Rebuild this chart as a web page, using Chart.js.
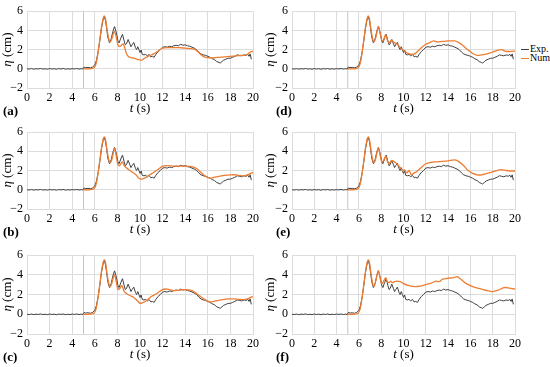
<!DOCTYPE html>
<html lang="en">
<head>
    <meta charset="UTF-8">
    <title>Wave elevation</title>
    <script src="https://cdn.jsdelivr.net/npm/chart.js"></script>
    <style>
        body { margin: 0; background: #fff; }
        #wrap { position: relative; width: 550px; height: 367px; overflow: hidden; }
        canvas { position: absolute; }
        .legend { position: absolute; left: 521px; font: 10px "Liberation Serif"; color: #000; white-space: nowrap; }
        .legend span { display: inline-block; width: 8px; height: 1.5px; vertical-align: middle; margin-right: 1px; }
    </style>
</head>
<body>
    <div id="wrap">
        <div class="legend" style="top:43px"><span style="background:#404040"></span>Exp.</div>
        <div class="legend" style="top:52px"><span style="background:#ED7D31"></span>Num</div>
    </div>

    <script>
        // experimental record (same gauge in every panel)
        const expT = [0, 0.2, 0.4, 0.6, 0.8, 1.0, 1.2, 1.4, 1.6, 1.8, 2.0, 2.2, 2.4, 2.6, 2.8, 3.0, 3.2, 3.4, 3.6, 3.8,
            4.0, 4.2, 4.4, 4.6, 4.8, 4.95, 5.05, 5.2, 5.4, 5.6, 5.8, 6.0, 6.15, 6.3, 6.45, 6.6, 6.75, 6.85, 6.95, 7.05,
            7.15, 7.3, 7.45, 7.6, 7.75, 7.9, 8.05, 8.15, 8.3, 8.45, 8.6, 8.7, 8.8, 8.95, 9.1, 9.2, 9.3, 9.45, 9.6, 9.7,
            9.8, 9.9, 10.0, 10.1, 10.2, 10.35, 10.5, 10.65, 10.8, 10.95, 11.1, 11.25, 11.4, 11.6, 11.8, 12.0, 12.2, 12.4, 12.6, 12.8,
            13.0, 13.2, 13.4, 13.6, 13.8, 14.0, 14.2, 14.4, 14.6, 14.8, 15.0, 15.2, 15.4, 15.6, 15.8, 16.0, 16.2, 16.4, 16.6, 16.8,
            17.0, 17.1, 17.25, 17.4, 17.6, 17.8, 18.0, 18.2, 18.4, 18.6, 18.8, 19.0, 19.2, 19.4, 19.55, 19.65, 19.75, 19.85];
        const expEta = [0.00, -0.03, 0.02, -0.04, 0.01, -0.02, 0.03, -0.03, 0.00, -0.04, 0.02, -0.02, 0.01, -0.05, 0.02, -0.02, 0.03, -0.04, 0.00, -0.03,
            0.02, -0.02, 0.03, -0.03, 0.01, -0.02, 0.18, 0.12, 0.15, 0.10, 0.18, 0.40, 0.9, 1.8, 3.0, 4.3, 5.2, 5.4, 5.0, 4.2,
            3.3, 2.7, 3.1, 3.9, 4.4, 3.8, 2.9, 2.7, 3.2, 3.6, 2.9, 2.5, 2.6, 3.05, 2.6, 2.3, 2.5, 2.75, 2.2, 2.0,
            2.3, 2.0, 1.7, 1.95, 1.5, 1.45, 1.5, 1.35, 1.5, 1.25, 1.3, 1.2, 1.5, 1.8, 2.0, 2.25, 2.3, 2.25, 2.35, 2.3,
            2.4, 2.45, 2.4, 2.55, 2.45, 2.5, 2.4, 2.35, 2.25, 2.15, 2.0, 1.75, 1.55, 1.45, 1.4, 1.3, 1.2, 1.05, 0.95, 0.75,
            0.65, 0.6, 0.75, 0.9, 1.0, 1.1, 1.1, 1.2, 1.3, 1.45, 1.4, 1.35, 1.45, 1.4, 1.5, 1.3, 1.55, 1.0];

        // numerical runs share the first crest
        const numHeadT = [5.0, 5.5, 5.9, 6.1, 6.3, 6.45, 6.6, 6.75, 6.85, 6.95, 7.05, 7.2, 7.35];
        const numHeadEta = [0, 0, 0.08, 0.5, 1.8, 3.1, 4.4, 5.3, 5.5, 5.2, 4.4, 3.3, 2.8];

        const numT_a = [7.5, 7.65, 7.75, 7.9, 8.05, 8.2, 8.35, 8.5, 8.65, 8.8, 9.0, 9.3, 9.6, 9.9, 10.15, 10.4, 10.8, 11.2, 11.6, 12.0,
            12.5, 13.0, 13.5, 14.0, 14.5, 14.9, 15.2, 15.5, 15.8, 16.2, 16.6, 17.0, 17.5, 18.0, 18.5, 19.0, 19.4, 19.7, 19.85, 20];
        const numEta_a = [3.1, 3.7, 3.9, 3.3, 2.5, 2.3, 2.45, 2.6, 2.2, 1.6, 1.25, 1.15, 1.05, 0.95, 0.9, 1.1, 1.35, 1.55, 1.85, 2.15,
            2.2, 2.2, 2.2, 2.15, 2.1, 2.0, 1.7, 1.35, 1.2, 1.15, 1.15, 1.2, 1.25, 1.3, 1.35, 1.4, 1.45, 1.7, 1.8, 1.8];

        const numT_b = [7.5, 7.65, 7.75, 7.9, 8.05, 8.2, 8.35, 8.45, 8.6, 8.75, 9.0, 9.3, 9.6, 9.9, 10.1, 10.4, 10.8, 11.2, 11.6, 12.0,
            12.4, 13.0, 13.5, 14.0, 14.6, 15.0, 15.4, 15.8, 16.2, 16.6, 17.0, 17.5, 18.0, 18.5, 19.0, 19.4, 19.7, 20];
        const numEta_b = [3.1, 3.9, 4.3, 3.5, 2.6, 2.5, 2.8, 2.9, 2.5, 2.3, 2.1, 1.85, 1.6, 1.2, 1.1, 1.2, 1.5, 1.8, 2.1, 2.45,
            2.5, 2.45, 2.45, 2.45, 2.4, 2.2, 1.8, 1.4, 1.2, 1.3, 1.4, 1.5, 1.55, 1.55, 1.45, 1.5, 1.65, 1.8];

        const numT_c = [7.5, 7.65, 7.75, 7.9, 8.05, 8.2, 8.4, 8.6, 8.8, 9.1, 9.4, 9.7, 10.0, 10.2, 10.6, 11.0, 11.5, 12.0, 12.4, 13.0,
            13.5, 14.0, 14.6, 15.0, 15.4, 15.8, 16.2, 16.7, 17.2, 17.8, 18.3, 18.8, 19.3, 19.7, 20];
        const numEta_c = [3.1, 3.8, 4.0, 3.3, 2.5, 2.6, 2.9, 2.3, 2.1, 1.9, 1.75, 1.45, 1.1, 1.15, 1.4, 1.8, 2.1, 2.5, 2.55, 2.4,
            2.45, 2.5, 2.4, 2.1, 1.75, 1.45, 1.25, 1.35, 1.45, 1.55, 1.55, 1.5, 1.5, 1.65, 1.8];

        const numT_d = [7.5, 7.65, 7.75, 7.9, 8.05, 8.15, 8.3, 8.4, 8.55, 8.7, 8.85, 8.95, 9.1, 9.3, 9.5, 9.7, 9.9, 10.1, 10.4, 10.7,
            11.0, 11.3, 11.6, 12.0, 12.3, 12.7, 13.0, 13.5, 14.0, 14.6, 15.0, 15.4, 15.8, 16.2, 16.6, 17.0, 17.5, 18.0, 18.5, 18.8,
            19.1, 19.5, 20];
        const numEta_d = [3.2, 4.0, 4.4, 3.7, 3.0, 2.9, 3.3, 3.55, 3.0, 2.7, 2.9, 3.0, 2.8, 2.65, 2.5, 2.2, 2.0, 1.85, 1.6, 1.5,
            1.55, 1.85, 2.2, 2.55, 2.7, 2.9, 2.8, 2.85, 2.9, 2.9, 2.7, 2.35, 1.95, 1.6, 1.4, 1.45, 1.55, 1.75, 1.95, 2.0,
            1.85, 1.8, 1.85];

        const numT_e = [7.5, 7.65, 7.75, 7.9, 8.05, 8.2, 8.4, 8.55, 8.7, 8.9, 9.05, 9.3, 9.5, 9.7, 9.9, 10.1, 10.3, 10.5, 10.7, 10.9,
            11.2, 11.6, 12.0, 12.5, 13.0, 13.5, 14.0, 14.6, 15.0, 15.4, 15.8, 16.2, 16.6, 17.0, 17.5, 18.0, 18.5, 18.8, 19.2, 19.6, 20];
        const numEta_e = [3.2, 4.0, 4.35, 3.6, 2.9, 3.0, 3.5, 3.0, 2.7, 3.0, 3.0, 2.8, 2.55, 2.3, 2.0, 2.05, 1.75, 2.0, 1.55, 1.7,
            1.9, 2.3, 2.7, 2.85, 2.9, 2.95, 3.0, 3.1, 2.9, 2.5, 2.0, 1.7, 1.55, 1.55, 1.7, 1.85, 2.05, 2.1, 2.0, 1.95, 1.95];

        const numT_f = [7.5, 7.65, 7.75, 7.9, 8.05, 8.2, 8.4, 8.55, 8.7, 8.85, 9.0, 9.2, 9.4, 9.7, 10.0, 10.5, 11.0, 11.5, 12.0, 12.5,
            12.9, 13.2, 13.5, 14.0, 14.5, 14.8, 15.1, 15.5, 16.0, 16.5, 17.0, 17.5, 18.0, 18.5, 19.0, 19.5, 20];
        const numEta_f = [3.3, 4.1, 4.4, 3.7, 3.1, 3.3, 3.7, 3.3, 3.2, 3.35, 3.2, 3.3, 3.35, 3.3, 3.1, 2.9, 2.8, 2.85, 3.0, 3.15,
            3.35, 3.3, 3.55, 3.65, 3.7, 3.8, 3.6, 3.2, 2.9, 2.7, 2.55, 2.4, 2.3, 2.45, 2.7, 2.65, 2.55];

        const xTicks = { min: 0, max: 20, step: 2 };
        const yTicks = { min: -2, max: 6, step: 2 };
        const gaugeT = 5;

        const panels = [
            { tag: '(a)', col: 0, row: 0, t: numT_a, eta: numEta_a },
            { tag: '(b)', col: 0, row: 1, t: numT_b, eta: numEta_b },
            { tag: '(c)', col: 0, row: 2, t: numT_c, eta: numEta_c },
            { tag: '(d)', col: 1, row: 0, t: numT_d, eta: numEta_d },
            { tag: '(e)', col: 1, row: 1, t: numT_e, eta: numEta_e },
            { tag: '(f)', col: 1, row: 2, t: numT_f, eta: numEta_f }
        ];

        const rows = [
            { top: 0, h: 120, plotTop: 8, plotBottom: 88 },
            { top: 120, h: 120, plotTop: 132, plotBottom: 209 },
            { top: 240, h: 127, plotTop: 255, plotBottom: 334 }
        ];
        const cols = [
            { left: 0, w: 270, plotLeft: 27, plotRight: 253, yTitleX: 8, tagX: 3 },
            { left: 260, w: 290, plotLeft: 292, plotRight: 515, yTitleX: 11, tagX: 16 }
        ];

        const serif = '"Liberation Serif"';
        Chart.defaults.font.family = serif;

        function toPoints(t, v) {
            return t.map((x, i) => ({ x: x, y: v[i] }));
        }

        function mixedText(ctx, ital, rest, cx, cy) {
            ctx.font = 'italic 13px ' + serif;
            const w1 = ctx.measureText(ital).width;
            ctx.font = '13px ' + serif;
            const w2 = ctx.measureText(rest).width;
            let x = cx - (w1 + w2) / 2;
            ctx.textAlign = 'left';
            ctx.textBaseline = 'middle';
            ctx.font = 'italic 13px ' + serif;
            ctx.fillText(ital, x, cy);
            ctx.font = '13px ' + serif;
            ctx.fillText(rest, x + w1, cy);
        }

        const wrap = document.getElementById('wrap');

        function drawPanel(p) {
            const r = rows[p.row];
            const c = cols[p.col];
            const canvas = document.createElement('canvas');
            canvas.width = c.w;
            canvas.height = r.h;
            canvas.style.left = c.left + 'px';
            canvas.style.top = r.top + 'px';
            wrap.appendChild(canvas);

            const titles = {
                id: 'titles',
                afterDraw(chart) {
                    const ctx = chart.ctx;
                    const a = chart.chartArea;
                    ctx.save();
                    ctx.fillStyle = '#000';
                    mixedText(ctx, 't', ' (s)', (a.left + a.right) / 2, a.bottom + 21);
                    ctx.translate(c.yTitleX, (a.top + a.bottom) / 2);
                    ctx.rotate(-Math.PI / 2);
                    mixedText(ctx, 'η', ' (cm)', 0, 0);
                    ctx.restore();
                    ctx.save();
                    ctx.fillStyle = '#000';
                    ctx.font = 'bold 13px ' + serif;
                    ctx.textAlign = 'left';
                    ctx.textBaseline = 'middle';
                    ctx.fillText(p.tag, c.tagX, a.bottom + 24);
                    ctx.restore();
                }
            };

            new Chart(canvas.getContext('2d'), {
                type: 'line',
                data: {
                    datasets: [
                        {
                            label: 'Num',
                            data: toPoints(numHeadT.concat(p.t), numHeadEta.concat(p.eta)),
                            borderColor: '#ED7D31',
                            borderWidth: 1.3,
                            pointRadius: 0,
                            tension: 0.3,
                            order: 0
                        },
                        {
                            label: 'Exp.',
                            data: toPoints(expT, expEta),
                            borderColor: '#404040',
                            borderWidth: 1,
                            pointRadius: 0,
                            tension: 0,
                            order: 1
                        },
                        {
                            label: 'gauge',
                            data: [{ x: gaugeT, y: yTicks.min }, { x: gaugeT, y: yTicks.max }],
                            borderColor: '#c4c4c4',
                            borderWidth: 1,
                            pointRadius: 0,
                            order: 2
                        }
                    ]
                },
                options: {
                    responsive: false,
                    animation: false,
                    devicePixelRatio: 1,
                    layout: {
                        padding: { top: r.plotTop - r.top, right: c.left + c.w - c.plotRight, left: 0, bottom: 0 }
                    },
                    plugins: { legend: { display: false }, tooltip: { enabled: false } },
                    scales: {
                        x: {
                            type: 'linear',
                            min: xTicks.min,
                            max: xTicks.max,
                            afterFit: s => { s.height = r.top + r.h - r.plotBottom; },
                            ticks: { stepSize: xTicks.step, padding: 3, color: '#000', font: { family: serif, size: 12 } },
                            grid: { color: '#dcdcdc', drawTicks: false },
                            border: { color: '#dcdcdc' }
                        },
                        y: {
                            min: yTicks.min,
                            max: yTicks.max,
                            afterFit: s => { s.width = c.plotLeft - c.left; },
                            ticks: {
                                stepSize: yTicks.step, padding: 4, color: '#000', font: { family: serif, size: 12 },
                                callback: v => v < 0 ? '−' + Math.abs(v) : v
                            },
                            grid: { color: '#dcdcdc', drawTicks: false },
                            border: { color: '#dcdcdc' }
                        }
                    }
                },
                plugins: [titles]
            });
        }

        Promise.all([
            document.fonts.load('12px "Liberation Serif"'),
            document.fonts.load('italic 13px "Liberation Serif"'),
            document.fonts.load('bold 13px "Liberation Serif"')
        ]).catch(() => {}).then(() => panels.forEach(drawPanel));
    </script>
</body>
</html>
